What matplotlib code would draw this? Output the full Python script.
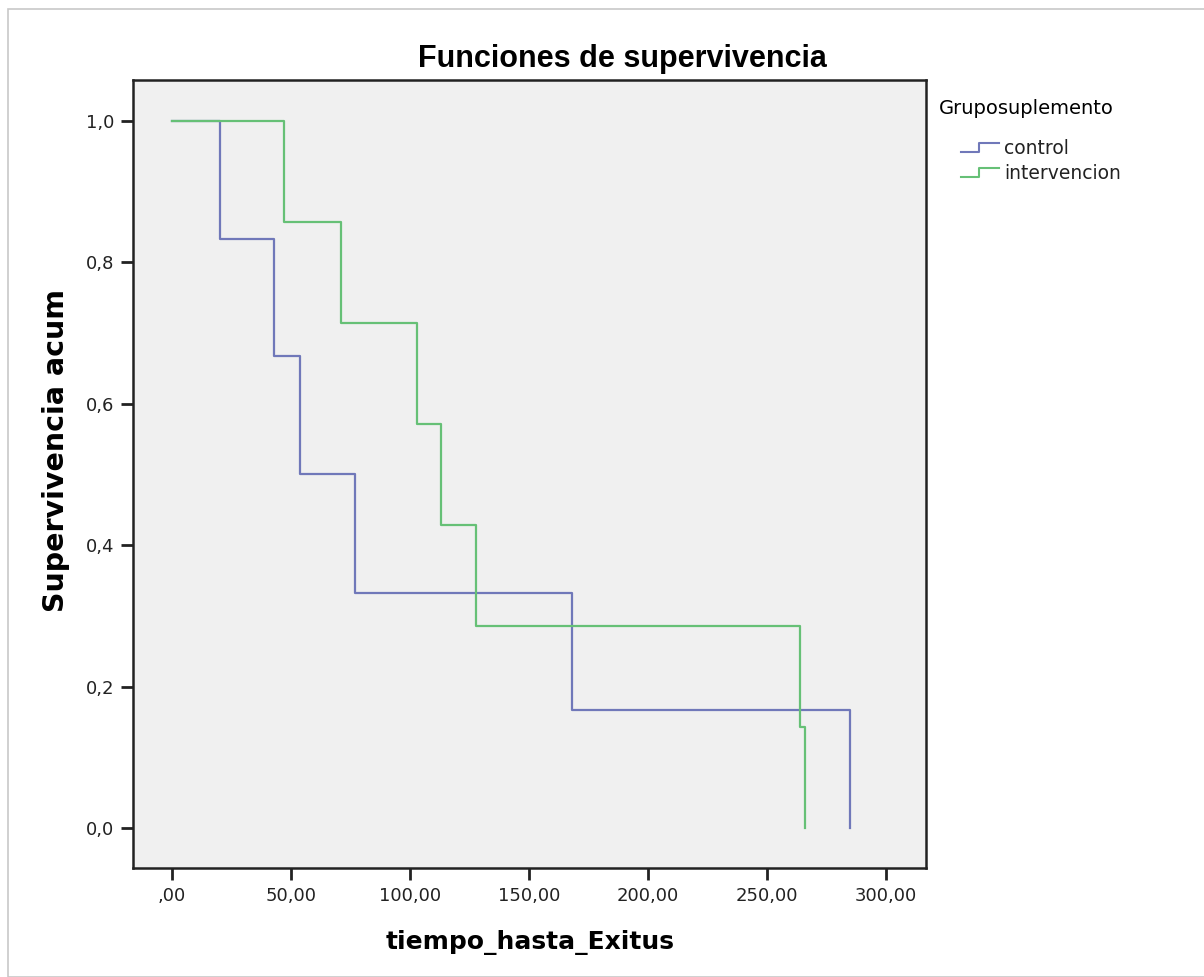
import matplotlib
matplotlib.use("Agg")
import matplotlib.pyplot as plt
from matplotlib.legend_handler import HandlerBase
from matplotlib.lines import Line2D
from matplotlib.patches import Rectangle

plt.rcParams['font.family'] = ['DejaVu Sans']

# Kaplan-Meier data
control_t = [0, 20, 43, 54, 77, 168, 285]
control_s = [1.0, 0.833, 0.667, 0.5, 0.333, 0.167, 0.0]
interv_t = [0, 47, 71, 103, 113, 128, 264, 266]
interv_s = [1.0, 0.857, 0.714, 0.571, 0.429, 0.286, 0.143, 0.0]

group_names = ['control', 'intervencion']
group_colors = ['#7078b9', '#66c076']

x_ticks = [0, 50, 100, 150, 200, 250, 300]
x_labels = [',00', '50,00', '100,00', '150,00', '200,00', '250,00', '300,00']
y_ticks = [0.0, 0.2, 0.4, 0.6, 0.8, 1.0]
y_labels = ['0,0', '0,2', '0,4', '0,6', '0,8', '1,0']

PX = 72 / 100  # points per pixel


class StepHandler(HandlerBase):
    # little step icon like the SPSS legend, indented under the title
    def create_artists(self, legend, orig, xd, yd, w, h, fontsize, trans):
        x0 = xd + w - 38 * PX
        xm = xd + w - 20 * PX
        x1 = xd + w
        lo = yd + h * 0.5 - 4.5 * PX
        hi = yd + h * 0.5 + 4.5 * PX
        ln = Line2D([x0, xm, xm, x1], [lo, lo, hi, hi], color=orig.get_color(),
                    lw=1.5, transform=trans)
        return [ln]


fig = plt.figure(figsize=(12.04, 9.77), dpi=100)
fig.patches.append(Rectangle((8 / 1204, 0), 1.0, 1 - 9 / 977, transform=fig.transFigure,
                             fill=False, edgecolor='#c8c8c8', lw=1.2))

ax = fig.add_axes([0.1105, 0.1116, 0.659, 0.8065])
ax.set_facecolor('#f0f0f0')

l1, = ax.step(control_t, control_s, where='post', color=group_colors[0], lw=1.6)
l2, = ax.step(interv_t, interv_s, where='post', color=group_colors[1], lw=1.6)

ax.set_xlim(-16.4, 317.2)
ax.set_ylim(-0.0566, 1.058)
ax.set_xticks(x_ticks)
ax.set_xticklabels(x_labels)
ax.set_yticks(y_ticks)
ax.set_yticklabels(y_labels)
ax.tick_params(direction='out', length=8.6, width=2, labelsize=13, colors='#222222', pad=5)
for sp in ax.spines.values():
    sp.set_linewidth(1.8)
    sp.set_color('#222222')

fig.text(622 / 1204, 1 - 67 / 977, 'Funciones de supervivencia', ha='center', va='baseline',
         fontsize=22, fontweight='bold', family='Liberation Sans')
ax.set_xlabel('tiempo_hasta_Exitus', fontsize=18, fontweight='bold')
ax.xaxis.set_label_coords(0.5, -(930 - 868) / 788)
ax.set_ylabel('Supervivencia acum', fontsize=20.5, fontweight='bold')
ax.yaxis.set_label_coords((70 - 133) / 794, (868 - 451) / 788)

leg = fig.legend([l1, l2], group_names, title='Gruposuplemento', loc='upper left',
                 bbox_to_anchor=(939 / 1204, 1 - 99 / 977), frameon=False,
                 fontsize=13.5, title_fontsize=14, handler_map={Line2D: StepHandler()},
                 handlelength=3.2, handletextpad=0.27, labelspacing=0.29,
                 borderpad=0.0, borderaxespad=0.0)
leg._legend_box.align = 'left'
leg._legend_box.sep = 15.4  # gap between title and entries
for t in leg.get_texts():
    t.set_color('#222222')

fig.savefig('out.png', dpi=100)
